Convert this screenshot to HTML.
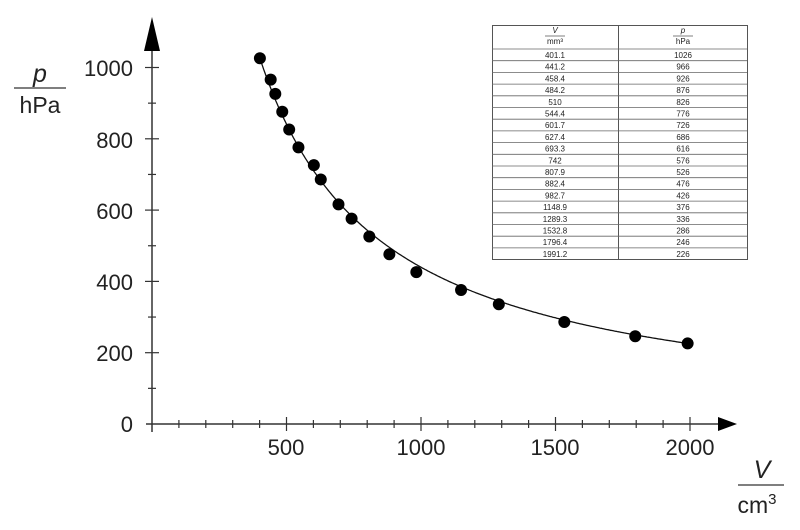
<!DOCTYPE html>
<html><head><meta charset="utf-8"><style>
body{margin:0;background:#fff;width:800px;height:530px;overflow:hidden}
svg{display:block}
text{font-family:"Liberation Sans",sans-serif;fill:#222}
</style></head><body>
<svg width="800" height="530" viewBox="0 0 800 530">
<g stroke="#333" stroke-width="1.5">
<line x1="152" y1="40" x2="152" y2="432"/>
<line x1="146" y1="424" x2="722" y2="424"/>
</g>
<polygon points="152,17 144,51 160,51" fill="#000"/>
<polygon points="737,424 718,417 718,431" fill="#000"/>
<g id="ticks" stroke="#333" stroke-width="1.2"></g>
<g font-size="22" text-anchor="end">
<text x="133" y="432">0</text>
<text x="133" y="361">200</text>
<text x="133" y="290">400</text>
<text x="133" y="219">600</text>
<text x="133" y="148">800</text>
<text x="133" y="76">1000</text>
</g>
<g font-size="22" text-anchor="middle">
<text x="286" y="455">500</text>
<text x="421" y="455">1000</text>
<text x="555" y="455">1500</text>
<text x="690" y="455">2000</text>
</g>
<text x="40" y="82" font-size="25" font-style="italic" text-anchor="middle">p</text>
<line x1="14" y1="88" x2="66" y2="88" stroke="#333" stroke-width="1.3"/>
<text x="40" y="113" font-size="23" text-anchor="middle">hPa</text>
<text x="762" y="478" font-size="25" font-style="italic" text-anchor="middle">V</text>
<line x1="738" y1="485" x2="784" y2="485" stroke="#333" stroke-width="1.3"/>
<text x="757" y="513" font-size="23" text-anchor="middle">cm<tspan font-size="15" dy="-9">3</tspan></text>
<path id="curve" fill="none" stroke="#111" stroke-width="1.3"/>
<g id="pts" fill="#000"></g>
<rect x="492.5" y="25.5" width="255" height="234" fill="#fff" stroke="#555" stroke-width="1"/>
<line x1="618.5" y1="25" x2="618.5" y2="260" stroke="#555"/>
<g id="tbl" font-size="8" text-anchor="middle"></g>
</svg>
<script>
var X=v=>152+v*0.269, Y=p=>424-p*0.3565;
var t=document.getElementById('ticks'),s='';
for(var v=100;v<=2000;v+=100){var L=v%500?4:7;s+=`<line x1="${X(v)}" y1="${424-L}" x2="${X(v)}" y2="${424+L}"/>`;}
for(var p=100;p<=1000;p+=100){var L=p%200?4:7;s+=`<line x1="${152-L}" y1="${Y(p)}" x2="${152+L}" y2="${Y(p)}"/>`;}
t.innerHTML=s;
var d='';for(var v=405;v<=2000;v+=5){var p=461000/(v+48.2);d+=(d?'L':'M')+X(v).toFixed(1)+','+Y(p).toFixed(1);}
document.getElementById('curve').setAttribute('d',d);
var D=[[401.1,1026],[441.2,966],[458.4,926],[484.2,876],[510,826],[544.4,776],[601.7,726],[627.4,686],[693.3,616],[742,576],[807.9,526],[882.4,476],[982.7,426],[1148.9,376],[1289.3,336],[1532.8,286],[1796.4,246],[1991.2,226]];
var g='';D.forEach(a=>g+=`<circle cx="${X(a[0])}" cy="${Y(a[1])}" r="6"/>`);
document.getElementById('pts').innerHTML=g;
var h=`<text x="555" y="33" font-style="italic">V</text><line x1="545" y1="36" x2="565" y2="36" stroke="#555" stroke-width="0.7"/><text x="555" y="44">mm³</text>
<text x="683" y="33" font-style="italic">p</text><line x1="673" y1="36" x2="693" y2="36" stroke="#555" stroke-width="0.7"/><text x="683" y="44">hPa</text>`;
var y0=49;D.forEach((a,i)=>{var y=y0+i*11.7;h+=`<line x1="492" y1="${y}" x2="747" y2="${y}" stroke="#666" stroke-width="0.8"/><text x="555" y="${y+9}">${a[0]}</text><text x="683" y="${y+9}">${a[1]}</text>`;});
document.getElementById('tbl').innerHTML=h;
</script>
</body></html>
